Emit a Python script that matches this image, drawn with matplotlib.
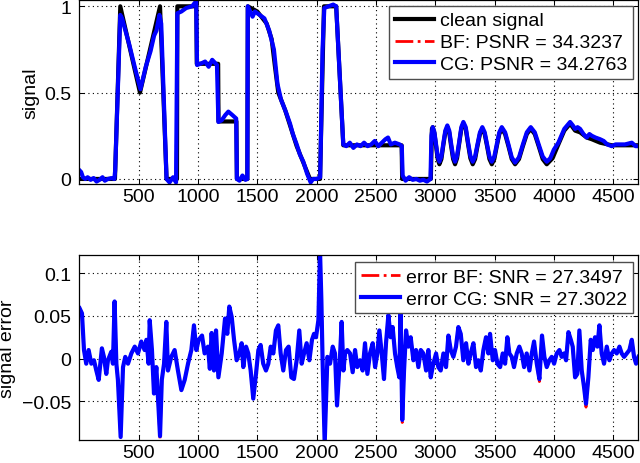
import matplotlib
matplotlib.use('Agg')
import matplotlib.pyplot as plt
import numpy as np

plt.rcParams['font.family'] = ['Liberation Sans', 'DejaVu Sans']
plt.rcParams['font.size'] = 14

# ---- top panel: clean signal (breakpoints) ----
clean_pts = [(1, 0), (300, 0), (345, 1.0), (511, 0.5), (680, 1.0), (735, 0), (823, 0), (826, 1.0),
             (986, 1.0), (990, 0.667), (1170, 0.667), (1173, 0.333), (1324, 0.333), (1328, 0),
             (1416, 0), (1420, 1.0), (1500, 0.97), (1579, 0.9), (1621, 0.81), (1649, 0.65),
             (1677, 0.5), (1734, 0.4), (1776, 0.31), (1832, 0.19), (1888, 0.095), (1944, 0),
             (2029, 0), (2062, 1.0), (2165, 1.0), (2225, 0.195), (2717, 0.195), (2721, 0),
             (2963, 0), (2972, 0.29),
             (2979, 0.30), (2993, 0.265), (3007, 0.19), (3021, 0.115), (3035, 0.085),
             (3052, 0.115), (3068, 0.195), (3085, 0.27), (3102, 0.30),
             (3118, 0.27), (3134, 0.19), (3151, 0.115), (3167, 0.085),
             (3184, 0.12), (3202, 0.205), (3220, 0.29), (3237, 0.32),
             (3257, 0.29), (3276, 0.205), (3296, 0.12), (3316, 0.085),
             (3336, 0.115), (3356, 0.19), (3377, 0.26), (3397, 0.29),
             (3417, 0.26), (3437, 0.19), (3457, 0.115), (3477, 0.085),
             (3498, 0.115), (3519, 0.19), (3540, 0.26), (3561, 0.29),
             (3589, 0.26), (3617, 0.19), (3645, 0.115), (3673, 0.085),
             (3706, 0.115), (3739, 0.19), (3772, 0.26), (3805, 0.29),
             (3839, 0.26), (3872, 0.19), (3906, 0.115), (3940, 0.085),
             (3989, 0.12), (4038, 0.20), (4088, 0.28), (4137, 0.32),
             (4179, 0.28), (4221, 0.27), (4277, 0.24), (4320, 0.23), (4390, 0.21),
             (4488, 0.195), (4710, 0.195)]

# CG estimate (follows the clean signal with small wiggles)
cg_pts = [(1, 0.05), (15, 0.04), (30, 0.01), (50, 0.0), (70, 0.01), (95, -0.005), (120, 0.005),
          (145, -0.015), (170, -0.005), (195, 0.01), (215, -0.01), (240, 0.0), (270, 0.005),
          (295, 0.0), (302, 0.05), (345, 0.95), (360, 0.93), (420, 0.78), (470, 0.64),
          (515, 0.52), (560, 0.65), (600, 0.74), (630, 0.83), (650, 0.86), (675, 0.95),
          (690, 0.9), (735, 0.0), (760, -0.02), (790, 0.01), (815, -0.02), (826, 0.96),
          (860, 0.97), (900, 0.99), (950, 1.0), (985, 1.03), (992, 0.66), (1030, 0.67),
          (1060, 0.68), (1090, 0.65), (1120, 0.69), (1160, 0.66), (1172, 0.33), (1200, 0.34),
          (1230, 0.37), (1256, 0.39), (1290, 0.37), (1322, 0.35), (1328, 0.0), (1350, -0.01),
          (1375, 0.02), (1400, -0.005), (1416, 0.0), (1420, 1.0), (1440, 0.97), (1460, 0.94),
          (1480, 0.97), (1520, 0.95), (1560, 0.93), (1600, 0.86), (1640, 0.75), (1670, 0.55),
          (1700, 0.46), (1740, 0.39), (1776, 0.32), (1800, 0.26), (1832, 0.2), (1860, 0.14),
          (1888, 0.1), (1920, 0.03), (1950, -0.02), (1970, 0.0), (2000, 0.0), (2030, 0.01),
          (2050, 0.75), (2065, 0.99), (2100, 1.0), (2140, 1.01), (2165, 1.0), (2225, 0.2),
          (2250, 0.19), (2280, 0.21), (2310, 0.18), (2340, 0.2), (2370, 0.19), (2400, 0.21),
          (2430, 0.19), (2460, 0.2), (2490, 0.22), (2520, 0.19), (2550, 0.21), (2580, 0.23),
          (2602, 0.24), (2625, 0.2), (2660, 0.21), (2700, 0.2), (2718, 0.19), (2725, 0.02),
          (2750, -0.01), (2780, 0.01), (2810, -0.005), (2840, 0.0), (2870, -0.01),
          (2900, -0.005), (2930, -0.015), (2960, 0.0), (2968, 0.25),
          (2979, 0.30), (2993, 0.27), (3007, 0.20), (3021, 0.13), (3035, 0.10),
          (3052, 0.13), (3068, 0.205), (3085, 0.28), (3102, 0.31),
          (3118, 0.28), (3134, 0.205), (3151, 0.13), (3167, 0.10),
          (3184, 0.135), (3202, 0.215), (3220, 0.30), (3237, 0.33),
          (3257, 0.30), (3276, 0.215), (3296, 0.135), (3316, 0.10),
          (3336, 0.13), (3356, 0.20), (3377, 0.27), (3397, 0.30),
          (3417, 0.27), (3437, 0.20), (3457, 0.13), (3477, 0.10),
          (3498, 0.13), (3519, 0.20), (3540, 0.27), (3561, 0.30),
          (3589, 0.27), (3617, 0.20), (3645, 0.125), (3673, 0.095),
          (3706, 0.125), (3739, 0.20), (3772, 0.27), (3805, 0.30),
          (3839, 0.27), (3872, 0.20), (3906, 0.13), (3940, 0.10),
          (3970, 0.12), (4000, 0.17), (4038, 0.21), (4088, 0.29), (4137, 0.33),
          (4160, 0.31), (4179, 0.29), (4200, 0.3), (4221, 0.29), (4250, 0.26), (4277, 0.24),
          (4300, 0.26), (4320, 0.25), (4350, 0.24), (4390, 0.23), (4420, 0.22), (4450, 0.2),
          (4488, 0.19), (4520, 0.2), (4558, 0.2), (4600, 0.2), (4657, 0.21), (4690, 0.19),
          (4710, 0.19)]

# ---- bottom panel: error of the CG estimate ----
err_pts = [(2, 0.059), (22, 0.053), (39, 0.01), (58, -0.006), (78, 0.01), (101, -0.006),
           (123, -0.002), (143, -0.014), (163, -0.025), (190, 0.012), (207, 0.002),
           (227, -0.018), (241, -0.002), (269, 0.008), (283, -0.006), (297, 0.067),
           (312, -0.006), (325, -0.025), (348, -0.092), (368, -0.01), (387, 0.002),
           (410, -0.006), (438, 0.006), (467, 0.014), (494, 0.006), (522, 0.02), (550, 0.01),
           (565, 0.022), (584, -0.006), (593, 0.045), (612, 0.01), (629, -0.041), (649, -0.01),
           (680, -0.091), (695, -0.025), (714, -0.006), (733, 0.043), (747, -0.014),
           (775, 0.002), (803, 0.01), (831, -0.014), (860, -0.037), (888, -0.025),
           (916, -0.006), (944, 0.01), (966, 0.039), (986, 0.01), (1006, 0.022), (1034, 0.027),
           (1056, 0.006), (1084, 0.014), (1100, -0.012), (1115, 0.03), (1135, -0.014),
           (1152, 0.033), (1172, -0.022), (1200, 0.006), (1228, 0.047), (1247, 0.029),
           (1264, 0.061), (1284, 0.049), (1304, 0.022), (1326, -0.002), (1349, 0.006),
           (1368, 0.018), (1382, -0.01), (1405, 0.014), (1424, 0.006), (1444, -0.014),
           (1466, -0.047), (1489, -0.018), (1509, 0.01), (1528, 0.016), (1550, -0.006),
           (1573, -0.014), (1593, -0.006), (1613, 0.014), (1635, 0.006), (1657, 0.033),
           (1677, 0.039), (1697, 0.006), (1719, -0.014), (1742, 0.01), (1764, 0.014),
           (1787, -0.022), (1809, -0.024), (1832, -0.002), (1854, 0.033), (1874, -0.006),
           (1894, 0.006), (1916, 0.018), (1939, -0.002), (1961, 0.022), (1978, 0.029),
           (1995, 0.025), (2015, 0.045), (2029, 0.125), (2040, 0.069), (2051, -0.006),
           (2068, -0.1), (2091, 0.002), (2113, -0.006), (2136, 0.014), (2155, 0.006),
           (2172, -0.055), (2197, 0.002), (2211, 0.043), (2226, -0.014), (2240, 0.006),
           (2259, 0.01), (2282, 0.006), (2304, -0.016), (2324, 0.01), (2343, -0.01),
           (2366, -0.002), (2388, -0.014), (2408, 0.018), (2428, -0.018), (2450, 0.006),
           (2473, 0.018), (2493, -0.01), (2512, 0.006), (2529, 0.033), (2549, 0.006),
           (2568, -0.024), (2585, 0.018), (2605, 0.051), (2624, 0.025), (2641, 0.037),
           (2661, 0.006), (2680, -0.01), (2697, -0.022), (2708, 0.055), (2722, -0.072),
           (2737, -0.014), (2754, 0.033), (2774, 0.014), (2793, 0.025), (2816, -0.002),
           (2838, 0.01), (2858, -0.01), (2878, 0.01), (2900, 0.006), (2923, -0.014),
           (2942, 0.01), (2962, -0.022), (2984, -0.006), (3007, 0.006), (3026, -0.01),
           (3046, -0.014), (3069, 0.006), (3091, -0.01), (3111, 0.027), (3131, 0.01),
           (3153, 0.002), (3175, 0.014), (3195, 0.037), (3215, 0.029), (3237, -0.002),
           (3260, 0.018), (3280, -0.006), (3299, 0.006), (3322, 0.018), (3344, -0.01),
           (3364, -0.002), (3384, -0.014), (3406, 0.01), (3428, 0.025), (3448, 0.006),
           (3462, 0.029), (3485, -0.002), (3504, 0.01), (3524, -0.006), (3547, -0.01),
           (3569, 0.006), (3589, -0.006), (3608, 0.025), (3625, 0.006), (3645, 0.002),
           (3664, -0.01), (3687, 0.006), (3709, 0.014), (3729, 0.006), (3749, -0.01),
           (3771, 0.006), (3794, -0.014), (3814, 0.006), (3833, 0.02), (3856, -0.006),
           (3878, -0.024), (3900, 0.027), (3920, 0.002), (3940, -0.01), (3962, -0.002),
           (3982, 0.002), (4002, -0.006), (4024, 0.006), (4047, 0.01), (4066, 0.002),
           (4086, 0.006), (4103, -0.002), (4123, 0.031), (4143, 0.022), (4159, 0.014),
           (4179, -0.022), (4198, -0.018), (4215, 0.033), (4235, -0.014), (4254, -0.033),
           (4271, -0.053), (4291, -0.022), (4311, 0.022), (4328, 0.01), (4347, 0.025),
           (4367, 0.014), (4384, 0.039), (4403, 0.006), (4423, -0.006), (4446, 0.014),
           (4468, -0.002), (4488, 0.006), (4508, 0.01), (4530, 0.006), (4553, 0.014),
           (4572, 0.006), (4592, 0.002), (4615, 0.006), (4637, 0.01), (4657, 0.022),
           (4676, 0.002), (4693, -0.006), (4713, 0.002)]

# BF error is almost the same, only a few extremes differ
bf_err_changes = {680: -0.094, 2722: -0.075, 4271: -0.057, 3878: -0.027, 2605: 0.053}

x_clean, y_clean = np.array(clean_pts).T
x_cg, y_cg = np.array(cg_pts).T
x_err, y_err_cg = np.array(err_pts).T
y_err_bf = np.array([bf_err_changes.get(int(x), y) for x, y in err_pts])

psnr_bf, psnr_cg = 34.3237, 34.2763
snr_bf, snr_cg = 27.3497, 27.3022


def style_axes(ax):
    ax.grid(True, color='k', linestyle=(0, (1, 3)), linewidth=0.8)
    ax.tick_params(direction='in', top=True, right=True, length=3.5, width=0.75)
    ax.tick_params(axis='x', pad=3)
    ax.tick_params(axis='y', pad=6)
    for s in ax.spines.values():
        s.set_linewidth(0.9)
    ax.set_xlim(0, 4710)
    ax.set_xticks([500, 1000, 1500, 2000, 2500, 3000, 3500, 4000, 4500])


def add_legend(ax, anchor):
    leg = ax.legend(loc='upper right', bbox_to_anchor=anchor, borderaxespad=0,
                    fancybox=False, framealpha=1, edgecolor='0.3', fontsize=14,
                    handlelength=2.0, handletextpad=0.3, labelspacing=0.22, borderpad=0.3)
    leg.get_frame().set_linewidth(1.0)


fig = plt.figure(figsize=(6.4, 4.64), dpi=100)

ax1 = fig.add_axes([0.124, 0.601, 0.873, 0.397])
ax1.plot(x_clean, y_clean, color='k', lw=3, solid_joinstyle='round', label='clean signal')
ax1.plot(x_cg, y_cg, color='r', lw=2, ls='-.', label='BF: PSNR = %.4f' % psnr_bf)
ax1.plot(x_cg, y_cg, color='b', lw=3, solid_joinstyle='round', label='CG: PSNR = %.4f' % psnr_cg)
style_axes(ax1)
ax1.set_ylim(-0.03, 1.037)
ax1.set_yticks([0, 0.5, 1])
ax1.set_yticklabels(['0', '0.5', '1'])
ax1.set_ylabel('signal')
ax1.yaxis.set_label_coords(-0.072, 0.5)
add_legend(ax1, (0.991, 0.967))

ax2 = fig.add_axes([0.124, 0.0496, 0.873, 0.3987])
ax2.plot(x_err, y_err_bf, color='r', lw=2, ls='-.', label='error BF: SNR = %.4f' % snr_bf)
ax2.plot(x_err, y_err_cg, color='b', lw=3, solid_joinstyle='round',
         label='error CG: SNR = %.4f' % snr_cg)
style_axes(ax2)
ax2.set_ylim(-0.0955, 0.1215)
ax2.set_yticks([-0.05, 0, 0.05, 0.1])
ax2.set_yticklabels(['\u22120.05', '0', '0.05', '0.1'])
ax2.set_ylabel('signal error')
ax2.yaxis.set_label_coords(-0.1135, 0.5)
add_legend(ax2, (0.9905, 0.9605))

fig.savefig('out.png', dpi=100)
